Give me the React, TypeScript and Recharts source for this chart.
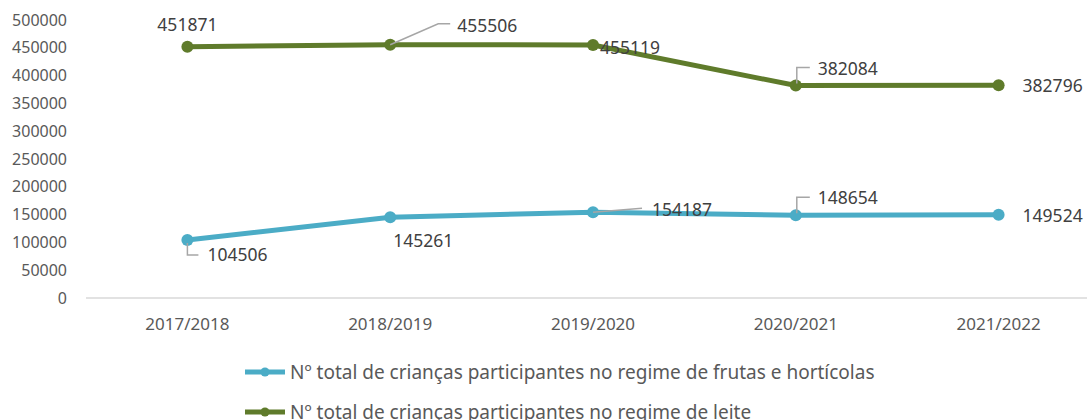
import { LineChart, Line, XAxis, YAxis, LabelList } from 'recharts'

const years = ['2017/2018', '2018/2019', '2019/2020', '2020/2021', '2021/2022']
const frutas = [104506, 145261, 154187, 148654, 149524]
const leite = [451871, 455506, 455119, 382084, 382796]
const yTicks = [0, 50000, 100000, 150000, 200000, 250000, 300000, 350000, 400000, 450000, 500000]

const FRUTAS_NAME = 'Nº total de crianças participantes no regime de frutas e hortícolas'
const LEITE_NAME = 'Nº total de crianças participantes no regime de leite'

const BLUE = '#4BACC6'
const GREEN = '#5F7B2B'
const TEXT = '#404040'
const AXIS_TEXT = '#595959'
const FONT = '"Noto Sans", sans-serif'

type Place = { dx: number; dy: number; anchor: 'start' | 'middle'; leader?: number[][] }

// where each data label sits relative to its point
const leitePlaces: Place[] = [
  { dx: 0, dy: -23, anchor: 'middle' },
  { dx: 67, dy: -20, anchor: 'start', leader: [[0, 0], [48, -21], [60, -21]] },
  { dx: 7, dy: 2, anchor: 'start' },
  { dx: 22, dy: -18, anchor: 'start', leader: [[1, -2], [1, -18], [14, -18]] },
  { dx: 24, dy: 0, anchor: 'start' },
]
const frutasPlaces: Place[] = [
  { dx: 20, dy: 14, anchor: 'start', leader: [[0, 3], [0, 15], [11, 15]] },
  { dx: 3, dy: 23, anchor: 'start' },
  { dx: 59, dy: -3, anchor: 'start', leader: [[0, 0], [49, -4]] },
  { dx: 22, dy: -18, anchor: 'start', leader: [[1, -2], [1, -18], [14, -18]] },
  { dx: 24, dy: 0, anchor: 'start' },
]

const data = years.map((year, i) => ({ year, frutas: frutas[i], leite: leite[i] }))

function makeLabel(places: Place[]) {
  return (props: any) => {
    const { x, y, value, index } = props
    const p = places[index]
    if (!p) return null
    return (
      <g>
        {p.leader && (
          <polyline
            points={p.leader.map(([a, b]) => `${x + a},${y + b}`).join(' ')}
            fill="none"
            stroke="#A6A6A6"
            strokeWidth={1.5}
          />
        )}
        <text
          x={x + p.dx}
          y={y + p.dy}
          textAnchor={p.anchor}
          dominantBaseline="central"
          fill={TEXT}
          fontSize={17.5}
          fontFamily={FONT}
        >
          {value}
        </text>
      </g>
    )
  }
}

function ChartLegend() {
  const items = [
    { name: FRUTAS_NAME, color: BLUE },
    { name: LEITE_NAME, color: GREEN },
  ]
  return (
    <div style={{ position: 'absolute', left: 245, top: 352 }}>
      {items.map((it) => (
        <div key={it.name} style={{ display: 'flex', alignItems: 'center', height: 40, fontFamily: FONT, fontSize: 19, color: AXIS_TEXT, whiteSpace: 'nowrap' }}>
          <svg width={40} height={12} style={{ marginRight: 5 }}>
            <line x1={0} y1={6} x2={40} y2={6} stroke={it.color} strokeWidth={5} />
            <circle cx={20} cy={6} r={4.5} fill={it.color} />
          </svg>
          <span>{it.name}</span>
        </div>
      ))}
    </div>
  )
}

export default function App() {
  return (
    <div style={{ width: 1087, height: 420, overflow: 'hidden', position: 'relative' }}>
      <style>{'body{margin:0;overflow:hidden}'}</style>
      <LineChart width={1100} height={420} data={data} margin={{ top: 20, right: 0, left: 0, bottom: 92 }}>
        <XAxis
          dataKey="year"
          scale="band"
          axisLine={{ stroke: '#D9D9D9', strokeWidth: 1.5 }}
          tickLine={false}
          tick={{ fontSize: 17, fill: AXIS_TEXT, fontFamily: FONT }}
          tickMargin={14}
        />
        <YAxis
          domain={[0, 500000]}
          ticks={yTicks}
          interval={0}
          axisLine={false}
          tickLine={false}
          width={86}
          tickMargin={13}
          tick={{ fontSize: 16, fill: AXIS_TEXT, fontFamily: FONT }}
        />
        <Line
          dataKey="frutas"
          name={FRUTAS_NAME}
          stroke={BLUE}
          strokeWidth={5}
          dot={{ r: 6, fill: BLUE, stroke: BLUE, strokeWidth: 0 }}
          isAnimationActive={false}
        >
          <LabelList dataKey="frutas" content={makeLabel(frutasPlaces)} />
        </Line>
        <Line
          dataKey="leite"
          name={LEITE_NAME}
          stroke={GREEN}
          strokeWidth={5}
          dot={{ r: 6, fill: GREEN, stroke: GREEN, strokeWidth: 0 }}
          isAnimationActive={false}
        >
          <LabelList dataKey="leite" content={makeLabel(leitePlaces)} />
        </Line>
      </LineChart>
      <ChartLegend />
    </div>
  )
}
